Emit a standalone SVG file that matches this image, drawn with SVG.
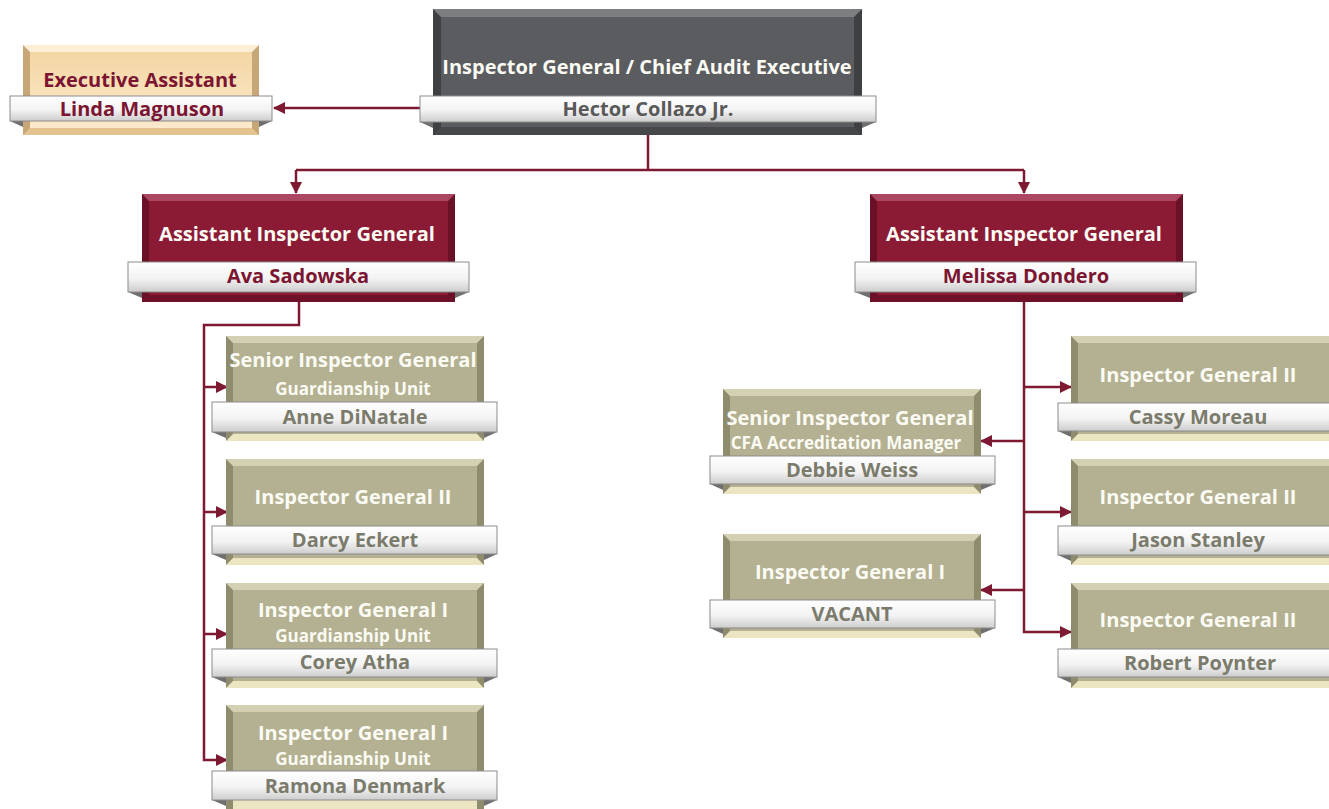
<svg xmlns="http://www.w3.org/2000/svg" width="1329" height="809" viewBox="0 0 1329 809">
<style>
text{font-family:"Open Sans","Noto Sans","Liberation Sans",sans-serif;font-weight:bold;text-anchor:middle}
.t{font-size:20px;fill:#fbfbf4}
.s{font-size:17px;fill:#fbfbf4}
.n{font-size:20px;fill:#7b7b6c}
.nm{font-size:20px;fill:#7b1531}
.ng{font-size:20px;fill:#595959}
.eat{font-size:20px;fill:#7b1531}
.ol-side{fill:#8f8c6e}.ol-top{fill:#d3d0b4}.ol-bot{fill:#ece5c2}.ol-main{fill:#b3b191}
.ai-side{fill:#6a1027}.ai-top{fill:#ab4760}.ai-bot{fill:#6f1229}.ai-main{fill:#8b1a35}
.gr-side{fill:#3e4043}.gr-top{fill:#7c7e82}.gr-bot{fill:#45474a}.gr-main{fill:#5a5c60}
.ea-side{fill:#c7a677}.ea-top{fill:#fcefd6}.ea-bot{fill:#e3c38f}.ea-main{fill:url(#eaGrad)}
.bar{fill:url(#barGrad);stroke:#8c8c8c;stroke-width:1}
.fold{fill:#6f6f6f}
.conn{fill:none;stroke:#7d1a32;stroke-width:2.5}
</style>
<defs>
<linearGradient id="barGrad" x1="0" y1="0" x2="0" y2="1">
<stop offset="0" stop-color="#ffffff"/><stop offset="0.55" stop-color="#f3f3f3"/><stop offset="1" stop-color="#cdcdcd"/>
</linearGradient>
<linearGradient id="eaGrad" x1="0" y1="0" x2="0" y2="1">
<stop offset="0" stop-color="#f4d6a4"/><stop offset="1" stop-color="#fbe9cb"/>
</linearGradient>
<marker id="arr" markerUnits="userSpaceOnUse" markerWidth="12" markerHeight="12" viewBox="0 0 12 12" refX="11" refY="6" orient="auto">
<path d="M0,0 L12,6 L0,12 Z" fill="#7d1a32"/>
</marker>
</defs>

<g id="connectors">
<path class="conn" d="M420,108 H274" marker-end="url(#arr)"/>
<path class="conn" d="M648,135 V170 M296,170 H1024"/>
<path class="conn" d="M296,170 V193" marker-end="url(#arr)"/>
<path class="conn" d="M1024,170 V193" marker-end="url(#arr)"/>
<path class="conn" d="M299,302 V325 H204 V760 H227" marker-end="url(#arr)"/>
<path class="conn" d="M204,387 H227" marker-end="url(#arr)"/>
<path class="conn" d="M204,512 H227" marker-end="url(#arr)"/>
<path class="conn" d="M204,634 H227" marker-end="url(#arr)"/>
<path class="conn" d="M1024,302 V632 H1071" marker-end="url(#arr)"/>
<path class="conn" d="M1024,387 H1071" marker-end="url(#arr)"/>
<path class="conn" d="M1024,512 H1071" marker-end="url(#arr)"/>
<path class="conn" d="M1024,441 H981" marker-end="url(#arr)"/>
<path class="conn" d="M1024,590 H981" marker-end="url(#arr)"/>
</g>

<g id="node-ig">
<rect class="gr-side" x="433" y="9" width="429" height="126"/>
<polygon class="gr-top" points="433,9 862,9 854,17 441,17"/>
<polygon class="gr-bot" points="433,135 862,135 854,127 441,127"/>
<rect class="gr-main" x="441" y="17" width="413" height="110"/>
<polygon class="fold" points="420,122 433,122 433,128"/>
<polygon class="fold" points="876,122 862,122 862,128"/>
<rect class="bar" x="420" y="96" width="456" height="26"/>
<text class="t" x="647" y="74">Inspector General / Chief Audit Executive</text>
<text class="ng" x="648" y="116">Hector Collazo Jr.</text>
</g>

<g id="node-ea">
<rect class="ea-side" x="23" y="45" width="236" height="90"/>
<polygon class="ea-top" points="23,45 259,45 252,52 30,52"/>
<polygon class="ea-bot" points="23,135 259,135 252,128 30,128"/>
<rect class="ea-main" x="30" y="52" width="222" height="76"/>
<polygon class="fold" points="10,121 23,121 23,127"/>
<polygon class="fold" points="272,121 259,121 259,127"/>
<rect class="bar" x="10" y="96" width="262" height="25"/>
<text class="eat" x="140" y="87">Executive Assistant</text>
<text class="eat" x="142" y="116">Linda Magnuson</text>
</g>

<g id="node-aig-left">
<rect class="ai-side" x="142" y="194" width="313" height="108"/>
<polygon class="ai-top" points="142,194 455,194 448,201 149,201"/>
<polygon class="ai-bot" points="142,302 455,302 448,295 149,295"/>
<rect class="ai-main" x="149" y="201" width="299" height="94"/>
<polygon class="fold" points="128,292 142,292 142,298"/>
<polygon class="fold" points="469,292 455,292 455,298"/>
<rect class="bar" x="128" y="262" width="341" height="30"/>
<text class="t" x="297" y="241">Assistant Inspector General</text>
<text class="nm" x="298" y="283">Ava Sadowska</text>
</g>

<g id="node-aig-right">
<rect class="ai-side" x="870" y="194" width="313" height="108"/>
<polygon class="ai-top" points="870,194 1183,194 1176,201 877,201"/>
<polygon class="ai-bot" points="870,302 1183,302 1176,295 877,295"/>
<rect class="ai-main" x="877" y="201" width="299" height="94"/>
<polygon class="fold" points="855,292 870,292 870,298"/>
<polygon class="fold" points="1196,292 1183,292 1183,298"/>
<rect class="bar" x="855" y="262" width="341" height="30"/>
<text class="t" x="1024" y="241">Assistant Inspector General</text>
<text class="nm" x="1026" y="283">Melissa Dondero</text>
</g>

<g id="node-dinatale">
<rect class="ol-side" x="226" y="336" width="258" height="105"/>
<polygon class="ol-top" points="226,336 484,336 477,343 233,343"/>
<polygon class="ol-bot" points="226,441 484,441 477,434 233,434"/>
<rect class="ol-main" x="233" y="343" width="244" height="91"/>
<polygon class="fold" points="212,432 226,432 226,438"/>
<polygon class="fold" points="497,432 484,432 484,438"/>
<rect class="bar" x="212" y="402" width="285" height="30"/>
<text class="t" x="353" y="367">Senior Inspector General</text>
<text class="s" x="353" y="395">Guardianship Unit</text>
<text class="n" x="355" y="424">Anne DiNatale</text>
</g>

<g id="node-eckert">
<rect class="ol-side" x="226" y="459" width="258" height="106"/>
<polygon class="ol-top" points="226,459 484,459 477,466 233,466"/>
<polygon class="ol-bot" points="226,565 484,565 477,558 233,558"/>
<rect class="ol-main" x="233" y="466" width="244" height="92"/>
<polygon class="fold" points="212,554 226,554 226,560"/>
<polygon class="fold" points="497,554 484,554 484,560"/>
<rect class="bar" x="212" y="526" width="285" height="28"/>
<text class="t" x="353" y="504">Inspector General II</text>
<text class="n" x="355" y="547">Darcy Eckert</text>
</g>

<g id="node-atha">
<rect class="ol-side" x="226" y="583" width="258" height="105"/>
<polygon class="ol-top" points="226,583 484,583 477,590 233,590"/>
<polygon class="ol-bot" points="226,688 484,688 477,681 233,681"/>
<rect class="ol-main" x="233" y="590" width="244" height="91"/>
<polygon class="fold" points="212,677 226,677 226,683"/>
<polygon class="fold" points="497,677 484,677 484,683"/>
<rect class="bar" x="212" y="649" width="285" height="28"/>
<text class="t" x="353" y="617">Inspector General I</text>
<text class="s" x="353" y="642">Guardianship Unit</text>
<text class="n" x="355" y="669">Corey Atha</text>
</g>

<g id="node-denmark">
<rect class="ol-side" x="226" y="705" width="258" height="110"/>
<polygon class="ol-top" points="226,705 484,705 477,712 233,712"/>
<rect class="ol-bot" x="233" y="800" width="244" height="15"/>
<rect class="ol-main" x="233" y="712" width="244" height="88"/>
<polygon class="fold" points="212,800 226,800 226,806"/>
<polygon class="fold" points="497,800 484,800 484,806"/>
<rect class="bar" x="212" y="771" width="285" height="29"/>
<text class="t" x="353" y="740">Inspector General I</text>
<text class="s" x="353" y="765">Guardianship Unit</text>
<text class="n" x="355" y="793">Ramona Denmark</text>
</g>

<g id="node-weiss">
<rect class="ol-side" x="723" y="389" width="258" height="105"/>
<polygon class="ol-top" points="723,389 981,389 974,396 730,396"/>
<polygon class="ol-bot" points="723,494 981,494 974,487 730,487"/>
<rect class="ol-main" x="730" y="396" width="244" height="91"/>
<polygon class="fold" points="710,484 723,484 723,490"/>
<polygon class="fold" points="995,484 981,484 981,490"/>
<rect class="bar" x="710" y="456" width="285" height="28"/>
<text class="t" x="850" y="425">Senior Inspector General</text>
<text class="s" x="846" y="449" font-size="18">CFA Accreditation Manager</text>
<text class="n" x="852" y="477">Debbie Weiss</text>
</g>

<g id="node-vacant">
<rect class="ol-side" x="723" y="534" width="258" height="104"/>
<polygon class="ol-top" points="723,534 981,534 974,541 730,541"/>
<polygon class="ol-bot" points="723,638 981,638 974,631 730,631"/>
<rect class="ol-main" x="730" y="541" width="244" height="90"/>
<polygon class="fold" points="710,628 723,628 723,634"/>
<polygon class="fold" points="995,628 981,628 981,634"/>
<rect class="bar" x="710" y="600" width="285" height="28"/>
<text class="t" x="850" y="579">Inspector General I</text>
<text class="n" x="852" y="621">VACANT</text>
</g>

<g id="node-moreau">
<rect class="ol-side" x="1071" y="336" width="265" height="105"/>
<polygon class="ol-top" points="1071,336 1336,336 1329,343 1078,343"/>
<polygon class="ol-bot" points="1071,441 1336,441 1329,434 1078,434"/>
<rect class="ol-main" x="1078" y="343" width="251" height="91"/>
<polygon class="fold" points="1058,431 1071,431 1071,437"/>
<rect class="bar" x="1058" y="403" width="285" height="28"/>
<text class="t" x="1198" y="382">Inspector General II</text>
<text class="n" x="1198" y="424">Cassy Moreau</text>
</g>

<g id="node-stanley">
<rect class="ol-side" x="1071" y="459" width="265" height="106"/>
<polygon class="ol-top" points="1071,459 1336,459 1329,466 1078,466"/>
<polygon class="ol-bot" points="1071,565 1336,565 1329,558 1078,558"/>
<rect class="ol-main" x="1078" y="466" width="251" height="92"/>
<polygon class="fold" points="1058,555 1071,555 1071,561"/>
<rect class="bar" x="1058" y="526" width="285" height="29"/>
<text class="t" x="1198" y="504">Inspector General II</text>
<text class="n" x="1198" y="547">Jason Stanley</text>
</g>

<g id="node-poynter">
<rect class="ol-side" x="1071" y="583" width="265" height="105"/>
<polygon class="ol-top" points="1071,583 1336,583 1329,590 1078,590"/>
<polygon class="ol-bot" points="1071,688 1336,688 1329,681 1078,681"/>
<rect class="ol-main" x="1078" y="590" width="251" height="91"/>
<polygon class="fold" points="1058,677 1071,677 1071,683"/>
<rect class="bar" x="1058" y="649" width="285" height="28"/>
<text class="t" x="1198" y="627">Inspector General II</text>
<text class="n" x="1200" y="670">Robert Poynter</text>
</g>
</svg>
